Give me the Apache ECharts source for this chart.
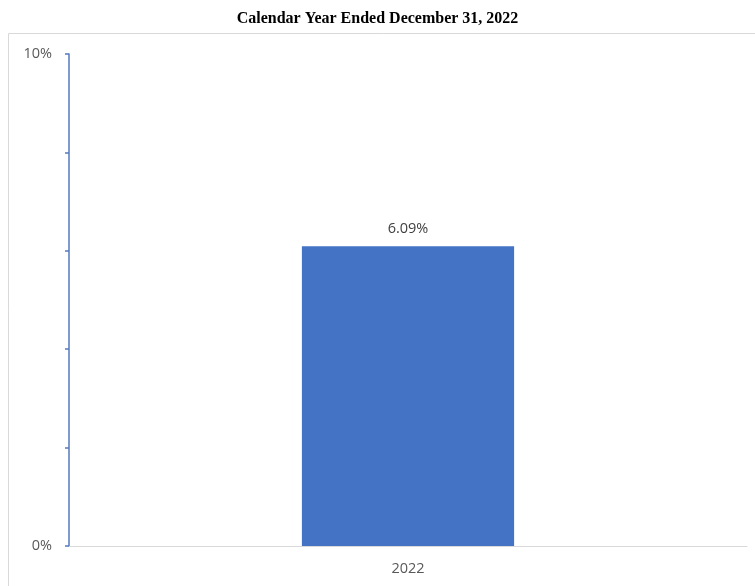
<!DOCTYPE html>
<html><head><meta charset="utf-8">
<script src="https://cdn.jsdelivr.net/npm/echarts@6/dist/echarts.min.js"></script>
<style>html,body{margin:0;padding:0;background:#fff}#c{width:755px;height:586px}</style>
</head><body><div id="c"></div>
<script>
var titleText = 'Calendar Year Ended December 31, 2022';
var categories = ['2022'];
var values = [6.09];
var yMin = 0, yMax = 10, yInterval = 2;
var yLabelsShown = [0, 10];

var chart = echarts.init(document.getElementById('c'), null, {renderer: 'canvas'});
chart.setOption({
  animation: false,
  backgroundColor: '#fff',
  title: {
    text: titleText, left: 'center', top: 6,
    textStyle: {fontFamily: 'Liberation Serif', fontWeight: 'bold', fontSize: 16, color: '#000'}
  },
  graphic: [{
    type: 'rect', shape: {x: 8.5, y: 33.5, width: 760, height: 570},
    style: {fill: 'none', stroke: '#d9d9d9', lineWidth: 1}, silent: true, z: -1
  }],
  grid: {left: 69, right: 8, top: 54, bottom: 40},
  xAxis: {
    type: 'category', data: categories,
    axisLine: {lineStyle: {color: '#d9d9d9', width: 1}},
    axisTick: {show: false},
    axisLabel: {color: '#595959', fontFamily: 'Open Sans', fontSize: 14.5, margin: 15}
  },
  yAxis: {
    type: 'value', min: yMin, max: yMax, interval: yInterval,
    splitLine: {show: false},
    axisLine: {show: true, lineStyle: {color: '#5579bd', width: 1.5}},
    axisTick: {show: true, length: 4, lineStyle: {color: '#5579bd', width: 1.5}},
    axisLabel: {
      color: '#595959', fontFamily: 'Open Sans', fontSize: 14.5, margin: 17,
      formatter: function (v) { return yLabelsShown.indexOf(v) >= 0 ? v + '%' : ''; }
    }
  },
  series: [{
    type: 'bar', data: values, barWidth: '31.3%',
    itemStyle: {color: '#4472c4'},
    label: {
      show: true, position: 'top', distance: 10, color: '#404040',
      fontFamily: 'Open Sans', fontSize: 14.5,
      formatter: function (p) { return p.value.toFixed(2) + '%'; }
    }
  }]
});
</script></body></html>
